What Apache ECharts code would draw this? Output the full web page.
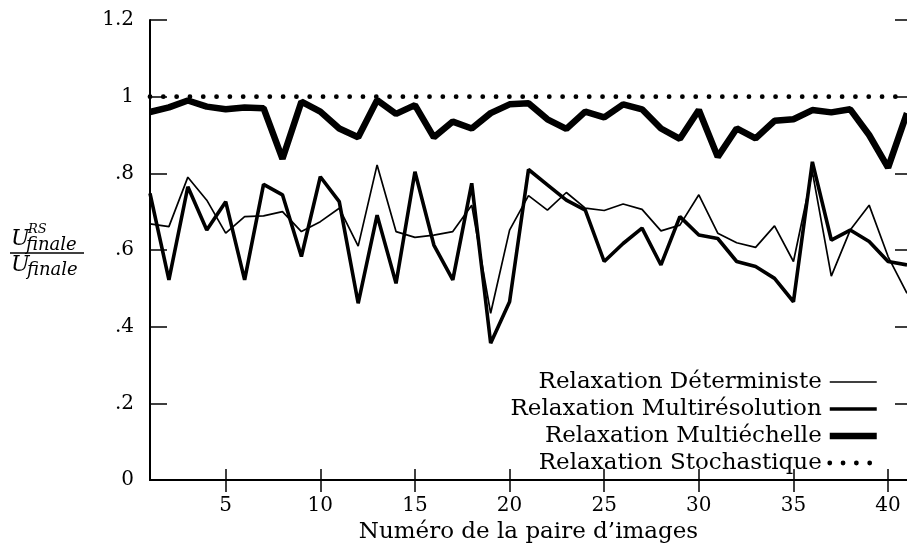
<!DOCTYPE html>
<html>
<head>
<meta charset="utf-8">
<script src="https://cdn.jsdelivr.net/npm/echarts@6/dist/echarts.min.js"></script>
<style>
  html, body { margin: 0; padding: 0; background: #fff; }
  #chart { width: 907px; height: 551px; }
</style>
</head>
<body>
<div id="chart"></div>
<script>
// numéro de la paire d'images
const paires = ['1','2','3','4','5','6','7','8','9','10','11','12','13','14','15','16','17','18','19','20',
  '21','22','23','24','25','26','27','28','29','30','31','32','33','34','35','36','37','38','39','40','41'];

const deterministe = [0.668, 0.661, 0.79, 0.73, 0.644, 0.687, 0.689, 0.70, 0.648, 0.674,
  0.709, 0.61, 0.822, 0.648, 0.633, 0.639, 0.648, 0.717, 0.435, 0.652,
  0.742, 0.704, 0.75, 0.709, 0.703, 0.72, 0.706, 0.65, 0.665, 0.744,
  0.644, 0.619, 0.607, 0.663, 0.57, 0.804, 0.532, 0.652, 0.717, 0.583, 0.487];

const multiresolution = [0.748, 0.522, 0.765, 0.652, 0.726, 0.522, 0.771, 0.744, 0.583, 0.791,
  0.726, 0.461, 0.691, 0.513, 0.804, 0.613, 0.522, 0.774, 0.357, 0.465,
  0.81, 0.77, 0.73, 0.704, 0.57, 0.617, 0.657, 0.561, 0.687, 0.639,
  0.63, 0.57, 0.557, 0.526, 0.465, 0.83, 0.626, 0.652, 0.622, 0.57, 0.561];

const multiechelle = [0.96, 0.972, 0.99, 0.974, 0.967, 0.972, 0.97, 0.838, 0.987, 0.961,
  0.917, 0.894, 0.991, 0.955, 0.978, 0.894, 0.935, 0.917, 0.957, 0.98,
  0.983, 0.941, 0.916, 0.961, 0.946, 0.98, 0.967, 0.917, 0.89, 0.965,
  0.843, 0.917, 0.891, 0.937, 0.941, 0.965, 0.959, 0.967, 0.90, 0.815, 0.957];

const stochastique = [1, 1, 1, 1, 1, 1, 1, 1, 1, 1, 1, 1, 1, 1, 1, 1, 1, 1, 1, 1,
  1, 1, 1, 1, 1, 1, 1, 1, 1, 1, 1, 1, 1, 1, 1, 1, 1, 1, 1, 1, 1];

const serif = 'DejaVu Serif';
const everyFifth = (i) => (i + 1) % 5 === 0;
const yFmt = (v) => v === 0 ? '0' : String(+v.toFixed(1)).replace(/^0\./, '.');

const chart = echarts.init(document.getElementById('chart'));

const option = {
  animation: false,
  backgroundColor: '#fff',
  grid: { left: 150, right: 0, top: 20, bottom: 71 },
  legend: {
    orient: 'vertical',
    align: 'right',
    right: 27,
    top: 369,
    padding: 0,
    itemGap: 1,
    itemWidth: 47,
    itemHeight: 14,
    itemStyle: { opacity: 0 },
    lineStyle: { width: 'inherit', type: 'inherit', cap: 'inherit' },
    textStyle: { fontFamily: serif, fontSize: 23, lineHeight: 26, color: '#000', padding: [0, 3, 0, 0] },
    data: ['Relaxation Déterministe', 'Relaxation Multirésolution', 'Relaxation Multiéchelle', 'Relaxation Stochastique']
  },
  xAxis: [
    {
      type: 'category',
      data: paires,
      boundaryGap: false,
      name: 'Numéro de la paire d’images',
      nameLocation: 'middle',
      nameGap: 41,
      nameTextStyle: { fontFamily: serif, fontSize: 23, color: '#000' },
      axisLine: { lineStyle: { color: '#000', width: 2 } },
      axisTick: { inside: true, length: 11, interval: everyFifth, lineStyle: { color: '#000', width: 1.5 } },
      axisLabel: { interval: everyFifth, margin: 16, fontFamily: serif, fontSize: 20, color: '#000' },
      splitLine: { show: false }
    },
    {
      type: 'category',
      data: paires,
      position: 'top',
      boundaryGap: false,
      axisLine: { lineStyle: { color: '#000', width: 2 } },
      axisTick: { inside: true, length: 12, interval: everyFifth, lineStyle: { color: '#000', width: 1.5 } },
      axisLabel: { show: false },
      splitLine: { show: false }
    }
  ],
  yAxis: [
    {
      type: 'value',
      min: 0,
      max: 1.2,
      interval: 0.2,
      axisLine: { show: true, lineStyle: { color: '#000', width: 2 } },
      axisTick: { show: true, inside: true, length: 17, lineStyle: { color: '#000', width: 1.5 } },
      axisLabel: { formatter: yFmt, margin: 16, fontFamily: serif, fontSize: 20, color: '#000' },
      splitLine: { show: false }
    },
    {
      type: 'value',
      min: 0,
      max: 1.2,
      interval: 0.2,
      position: 'right',
      axisLine: { show: false },
      axisTick: { show: true, inside: true, length: 12, lineStyle: { color: '#000', width: 1.5 } },
      axisLabel: { show: false },
      splitLine: { show: false }
    }
  ],
  series: [
    {
      name: 'Relaxation Déterministe',
      type: 'line',
      data: deterministe,
      symbol: 'none',
      lineStyle: { color: '#000', width: 1.7 },
      itemStyle: { color: '#000' }
    },
    {
      name: 'Relaxation Multirésolution',
      type: 'line',
      data: multiresolution,
      symbol: 'none',
      lineStyle: { color: '#000', width: 3.6 },
      itemStyle: { color: '#000' }
    },
    {
      name: 'Relaxation Multiéchelle',
      type: 'line',
      data: multiechelle,
      symbol: 'none',
      lineStyle: { color: '#000', width: 6.5 },
      itemStyle: { color: '#000' }
    },
    {
      name: 'Relaxation Stochastique',
      type: 'line',
      data: stochastique,
      symbol: 'none',
      lineStyle: { color: '#000', width: 4.8, type: [0.01, 13.3], cap: 'round' },
      itemStyle: { color: '#000' }
    }
  ],
  graphic: [
    { type: 'text', left: 11, top: 228, style: { text: 'U', font: 'italic 22px "DejaVu Serif"', fill: '#000' } },
    { type: 'text', left: 28, top: 223, style: { text: 'RS', font: 'italic 13px "DejaVu Serif"', fill: '#000' } },
    { type: 'text', left: 26, top: 236, style: { text: 'finale', font: 'italic 18px "DejaVu Serif"', fill: '#000' } },
    { type: 'line', shape: { x1: 10, y1: 253, x2: 84, y2: 253 }, style: { stroke: '#000', lineWidth: 1.6 } },
    { type: 'text', left: 11, top: 254, style: { text: 'U', font: 'italic 22px "DejaVu Serif"', fill: '#000' } },
    { type: 'text', left: 27, top: 261, style: { text: 'finale', font: 'italic 18px "DejaVu Serif"', fill: '#000' } }
  ]
};

chart.setOption(option);
</script>
</body>
</html>
